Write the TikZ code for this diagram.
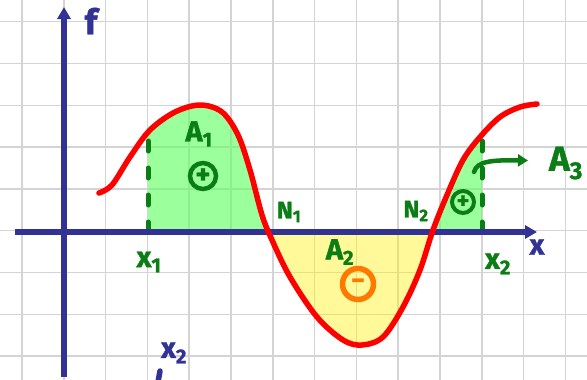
\documentclass[tikz,border=0pt]{standalone}
\usepackage{fontspec}
\setmainfont{Fira Sans}[BoldFeatures={FakeBold=1.2}]
\usetikzlibrary{arrows.meta}
\definecolor{gridgray}{RGB}{212,212,212}
\definecolor{axisblue}{RGB}{50,50,150}
\definecolor{pengreen}{RGB}{10,125,20}
\definecolor{fillgreen}{RGB}{102,255,102}
\definecolor{penorange}{RGB}{255,120,0}
\begin{document}
\begin{tikzpicture}[x=1pt,y=-1pt,
  gridline/.style={gridgray, line width=1.5pt},
  axisline/.style={axisblue, line width=5.5pt, -{Triangle[length=12pt,width=13pt]}},
  curveline/.style={red, line width=5.5pt, line cap=round, line join=round},
  dashline/.style={pengreen, line width=5pt, line cap=round, dash pattern=on 10pt off 17pt},
  lbl/.style={font=\fontsize{29}{31}\selectfont\bfseries, inner sep=0pt},
  nlbl/.style={font=\fontsize{24}{26}\selectfont\bfseries, inner sep=0pt},
  sign/.style={circle, draw, inner sep=0pt, font=\fontsize{28}{28}\selectfont\bfseries}
]
\useasboundingbox (0,0) rectangle (587,380);
\fill[white] (0,0) rectangle (587,380);
% grid
\foreach \i in {0,...,13} \draw[gridline] ({22+41.8*\i},0) -- ({22+41.8*\i},380);
\foreach \j in {0,...,8} \draw[gridline] (0,{21.7+41.8*\j}) -- (587,{21.7+41.8*\j});
% green areas A1, A3
\begin{scope}
\clip (148,0) rectangle (482,232);
\fill[fillgreen, opacity=0.65] plot[smooth,tension=0.55] coordinates {(99,193) (112,185) (130,157) (150,130) (175,112) (200,105) (222,112) (238,135) (250,170) (262,215) (272,240) (290,277) (317,317) (343,340) (362,345) (383,337) (403,307) (420,270) (433,230) (447,195) (463,160) (480,137) (500,117) (520,107) (537,104)} -- (537,232) -- (99,232) -- cycle;
\end{scope}
% yellow area A2
\begin{scope}
\clip (255,232) rectangle (445,380);
\fill[yellow, opacity=0.4] plot[smooth,tension=0.55] coordinates {(99,193) (112,185) (130,157) (150,130) (175,112) (200,105) (222,112) (238,135) (250,170) (262,215) (272,240) (290,277) (317,317) (343,340) (362,345) (383,337) (403,307) (420,270) (433,230) (447,195) (463,160) (480,137) (500,117) (520,107) (537,104)} -- (537,232) -- (99,232) -- cycle;
\end{scope}
% dashed bounds
\draw[dashline] (148,141) -- (148,241);
\draw[dashline] (482,141) -- (482,245);
% axes
\draw[axisline] (64,377) -- (64,7);
\draw[axisline] (15,232) -- (537,232);
% curve
\draw[curveline] plot[smooth,tension=0.55] coordinates {(99,193) (112,185) (130,157) (150,130) (175,112) (200,105) (222,112) (238,135) (250,170) (262,215) (272,240) (290,277) (317,317) (343,340) (362,345) (383,337) (403,307) (420,270) (433,230) (447,195) (463,160) (480,137) (500,117) (520,107) (537,104)};
% labels
\node[lbl, axisblue, font=\fontsize{35}{37}\selectfont\bfseries] (f) at (91,21) {f};
\node[lbl, axisblue] (xl) at (537,247) {x};
\node[lbl, axisblue] (bx2) at (174,353) {x\textsubscript{2}};
\draw[axisblue, line width=5.5pt, line cap=round] (160,371) -- (158,382);
\node[lbl, pengreen] (A1) at (199,134) {A\textsubscript{1}};
\node[lbl, pengreen] (A2) at (340,252) {A\textsubscript{2}};
\node[lbl, pengreen, font=\fontsize{35}{37}\selectfont\bfseries] (A3) at (566,163) {A\textsubscript{3}};
\node[nlbl, pengreen] (N1) at (289,212) {N\textsubscript{1}};
\node[nlbl, pengreen] (N2) at (416,211) {N\textsubscript{2}};
\node[lbl, pengreen] (x1) at (149,262) {x\textsubscript{1}};
\node[lbl, pengreen] (x2) at (498,264) {x\textsubscript{2}};
\node[sign, pengreen, line width=4.5pt, minimum size=26pt] (p1) at (203,176) {+};
\node[sign, pengreen, line width=4pt, minimum size=22pt, font=\fontsize{24}{24}\selectfont\bfseries] (p3) at (463,202) {+};
\node[sign, penorange, line width=5.5pt, minimum size=31pt, font=\fontsize{27}{27}\selectfont\bfseries] (m2) at (358,284) {−};
% arrow to A3
\coordinate (a3s) at (474,172);
\coordinate (a3e) at (528,160.5);
\draw[pengreen, line width=4.5pt, line cap=round, -{Triangle[length=10pt,width=12pt]}] (a3s) .. controls (477,161) and (492,160) .. (a3e);
\end{tikzpicture}
\end{document}
